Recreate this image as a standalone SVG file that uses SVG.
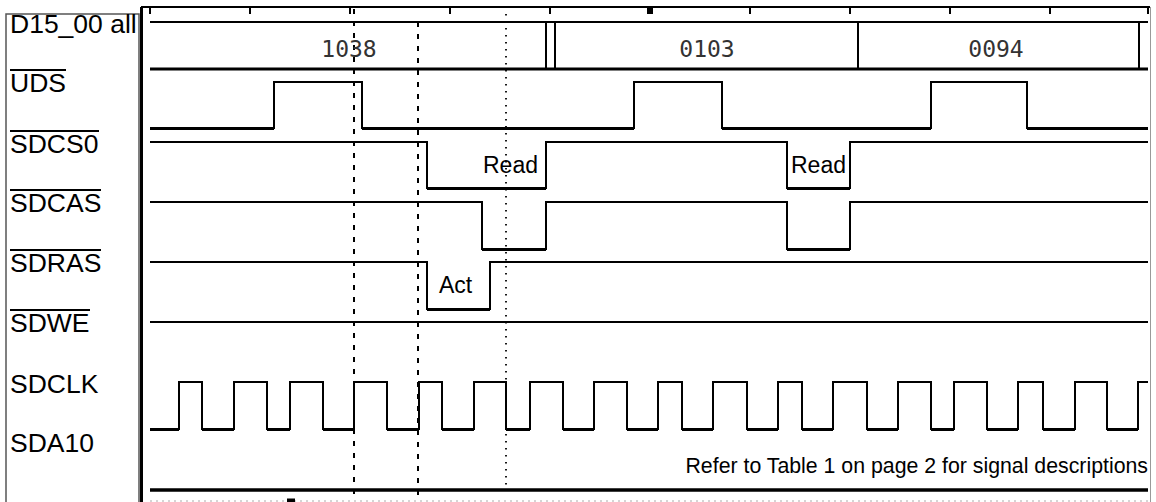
<svg xmlns="http://www.w3.org/2000/svg" width="1156" height="502" viewBox="0 0 1156 502">
<style>
.lbl{font-family:"Liberation Sans",Arial,sans-serif;font-size:26.5px;fill:#000}
.ann{font-family:"Liberation Sans",Arial,sans-serif;font-size:23px;fill:#000}
.bus{font-family:"DejaVu Sans Mono","Liberation Mono",monospace;font-size:23px;fill:#333;text-anchor:middle}
.ob{stroke:#000;stroke-width:2}
.w{fill:none;stroke:#000;stroke-width:2}
.lo{fill:none;stroke:#000;stroke-width:3.2}
.tick{stroke:#000;stroke-width:2}
</style>
<rect width="1156" height="502" fill="#fff"/>
<g id="frame">
  <rect x="6" y="14" width="133" height="492" fill="none" stroke="#555" stroke-width="1.5"/>
  <line x1="141.5" y1="7" x2="141.5" y2="502" stroke="#000" stroke-width="3"/>
  <line x1="141" y1="7" x2="1150" y2="7" stroke="#000" stroke-width="2"/>
  <line x1="1150.5" y1="7" x2="1150.5" y2="502" stroke="#999" stroke-width="1"/>
  <line x1="150" y1="501" x2="1150" y2="501" stroke="#aaa" stroke-width="1" stroke-dasharray="2,4"/>
  <rect x="287" y="498.5" width="8" height="3.5" fill="#000"/>
  <g class="tick">
    <line x1="150" y1="7" x2="150" y2="14"/><line x1="250" y1="7" x2="250" y2="14"/>
    <line x1="350" y1="7" x2="350" y2="14"/><line x1="450" y1="7" x2="450" y2="14"/>
    <line x1="550" y1="7" x2="550" y2="14"/><line x1="750" y1="7" x2="750" y2="14"/>
    <line x1="850" y1="7" x2="850" y2="14"/><line x1="950" y1="7" x2="950" y2="14"/>
    <line x1="1050" y1="7" x2="1050" y2="14"/><line x1="1148" y1="7" x2="1148" y2="14"/>
  </g>
  <rect x="647" y="8" width="6" height="6" fill="#000"/>
</g>
<g id="connectors">
  <line x1="354" y1="9" x2="354" y2="496" stroke="#000" stroke-width="2" stroke-dasharray="5,7"/>
  <line x1="418" y1="22" x2="418" y2="496" stroke="#000" stroke-width="2" stroke-dasharray="5,7"/>
  <line x1="506" y1="14" x2="506" y2="488" stroke="#000" stroke-width="1.8" stroke-dasharray="1.5,5.5"/>
</g>
<g id="sig-d15">
  <text class="lbl" x="10" y="33">D15_00 all</text>
  <line x1="150" y1="22" x2="1148" y2="22" stroke="#000" stroke-width="2"/>
  <line x1="150" y1="69" x2="1148" y2="69" stroke="#000" stroke-width="3"/>
  <g stroke="#000" stroke-width="2">
    <line x1="546" y1="22" x2="546" y2="69"/><line x1="555" y1="22" x2="555" y2="69"/>
    <line x1="858" y1="22" x2="858" y2="69"/><line x1="1139" y1="22" x2="1139" y2="69"/>
  </g>
  <text class="bus" x="349" y="57">1038</text>
  <text class="bus" x="707" y="57">0103</text>
  <text class="bus" x="996" y="57">0094</text>
</g>
<g id="sig-uds">
  <text class="lbl" x="10" y="92">UDS</text>
  <line class="ob" x1="10" y1="70" x2="66" y2="70"/>
  <path class="w" d="M150,128H274V82H362V128H634V82H722V128H931V82H1027V128H1148"/>
  <path class="lo" d="M150,128.5H274M362,128.5H634M722,128.5H931M1027,128.5H1148"/>
</g>
<g id="sig-sdcs0">
  <text class="lbl" x="10" y="153">SDCS0</text>
  <line class="ob" x1="10" y1="131" x2="99" y2="131"/>
  <path class="w" d="M150,142H427V188H546V142H787V188H850V142H1148"/>
  <path class="lo" d="M427,188.5H546M787,188.5H850"/>
  <text class="ann" x="483" y="173">Read</text>
  <text class="ann" x="791" y="173">Read</text>
</g>
<g id="sig-sdcas">
  <text class="lbl" x="10" y="212">SDCAS</text>
  <line class="ob" x1="10" y1="190" x2="101" y2="190"/>
  <path class="w" d="M150,202H482V249H546V202H787V249H850V202H1148"/>
  <path class="lo" d="M482,249.5H546M787,249.5H850"/>
</g>
<g id="sig-sdras">
  <text class="lbl" x="10" y="272">SDRAS</text>
  <line class="ob" x1="10" y1="250" x2="101" y2="250"/>
  <path class="w" d="M150,262H427V309H490V262H1148"/>
  <path class="lo" d="M427,309.5H490"/>
  <text class="ann" x="439" y="293">Act</text>
</g>
<g id="sig-sdwe">
  <text class="lbl" x="10" y="332">SDWE</text>
  <line class="ob" x1="10" y1="310" x2="90" y2="310"/>
  <path class="w" d="M150,322H1148"/>
</g>
<g id="sig-sdclk">
  <text class="lbl" x="10" y="393">SDCLK</text>
  <path class="w" d="M150,429H179V382H202V429H234V382H267V429H290V382H323V429H354V382H387V429H419V382H442V429H474V382H506V429H530V382H563V429H594V382H627V429H658V382H682V429H713V382H747V429H778V382H802V429H833V382H867V429H898V382H931V429H954V382H987V429H1018V382H1043V429H1075V382H1107V429H1138V382H1148"/>
  <path class="lo" d="M150,429.5H179M202,429.5H234M267,429.5H290M323,429.5H354M387,429.5H419M442,429.5H474M506,429.5H530M563,429.5H594M627,429.5H658M682,429.5H713M747,429.5H778M802,429.5H833M867,429.5H898M931,429.5H954M987,429.5H1018M1043,429.5H1075M1107,429.5H1138"/>
</g>
<g id="sig-sda10">
  <text class="lbl" x="10" y="452">SDA10</text>
  <line x1="150" y1="490" x2="1148" y2="490" stroke="#000" stroke-width="3.5"/>
</g>
<g id="note">
  <text x="1148" y="473" text-anchor="end" font-family="'Liberation Sans',Arial,sans-serif" font-size="21.3" fill="#000">Refer to Table 1 on page 2 for signal descriptions</text>
</g>
</svg>
